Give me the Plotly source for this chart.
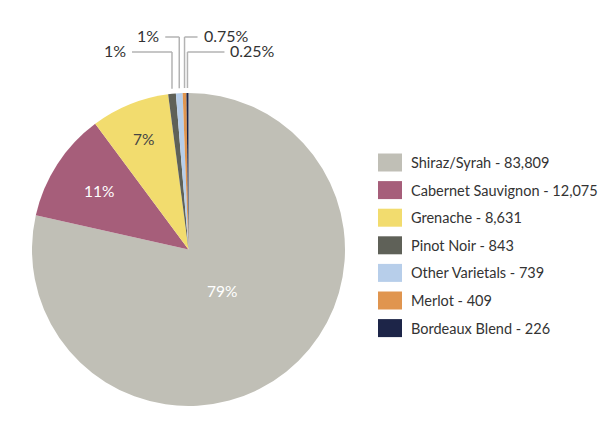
import math
import plotly.graph_objects as go

# ---- data ----
varieties = ["Shiraz/Syrah", "Cabernet Sauvignon", "Grenache", "Pinot Noir",
             "Other Varietals", "Merlot", "Bordeaux Blend"]
tonnes = [83809, 12075, 8631, 843, 739, 409, 226]
pct_labels = ["79%", "11%", "7%", "1%", "1%", "0.75%", "0.25%"]
colors = ["#C0BFB6", "#A65E7A", "#F2DC6E", "#5F6158", "#B7CEEA", "#E0954F", "#1D2548"]

W, H = 600, 434
# pie geometry in pixels
PX0, PX1, PY0, PY1 = 32, 345, 93, 406
CX, CY = (PX0 + PX1) / 2, (PY0 + PY1) / 2
R = (PX1 - PX0) / 2

def px(x):
    return x / W

def py(y):
    return 1 - y / H

FONT = "Lato"

fig = go.Figure(go.Pie(
    labels=varieties, values=tonnes, sort=False, direction="clockwise",
    rotation=0, textinfo="none",
    marker=dict(colors=colors, line=dict(width=0)),
    domain=dict(x=[px(PX0), px(PX1)], y=[py(PY1), py(PY0)]),
    showlegend=False, hoverinfo="label+value+percent",
))

shapes = []
annotations = []

total = sum(tonnes)
cum = 0
mids = []
for v in tonnes:
    mids.append((cum + v / 2) / total)
    cum += v

# inside labels for the large slices (radial fraction, colour)
inside_style = {0: (0.34, "white"), 1: (0.68, "white"), 2: (0.76, "#444444")}
for i, (frac, col) in inside_style.items():
    ang = mids[i] * 2 * math.pi
    x = CX + frac * R * math.sin(ang)
    y = CY - frac * R * math.cos(ang)
    annotations.append(dict(
        xref="paper", yref="paper", x=px(x), y=py(y), text=pct_labels[i],
        showarrow=False, xanchor="center", yanchor="middle",
        font=dict(family=FONT, size=15.5, color=col)))

line_color = "#B3B3B3"
# (level y in px, horizontal direction, horizontal length)
leader_style = {3: (52, -1, 40), 4: (37, -1, 14), 5: (37, 1, 13), 6: (52, 1, 37)}
for i, (ly, d, length) in leader_style.items():
    ang = mids[i] * 2 * math.pi
    x_edge = CX + R * math.sin(ang)
    y_edge = CY - R * math.cos(ang)
    y_stop = y_edge - 5
    shapes.append(dict(type="line", xref="paper", yref="paper",
                       x0=px(x_edge), y0=py(y_stop), x1=px(x_edge), y1=py(ly),
                       line=dict(color=line_color, width=1.5)))
    x_end = x_edge + d * length
    shapes.append(dict(type="line", xref="paper", yref="paper",
                       x0=px(x_edge), y0=py(ly), x1=px(x_end), y1=py(ly),
                       line=dict(color=line_color, width=1.5)))
    annotations.append(dict(
        xref="paper", yref="paper", x=px(x_end + d * 4), y=py(ly - 1),
        text=pct_labels[i], showarrow=False,
        xanchor="left" if d > 0 else "right", yanchor="middle",
        font=dict(family=FONT, size=16, color="#333333")))

# custom legend
LX, LY0, LDY = 378, 162.5, 27.6
for i, (name, v) in enumerate(zip(varieties, tonnes)):
    yc = LY0 + i * LDY
    shapes.append(dict(type="rect", xref="paper", yref="paper",
                       x0=px(LX), x1=px(LX + 24), y0=py(yc + 9), y1=py(yc - 9),
                       fillcolor=colors[i], line=dict(width=0)))
    annotations.append(dict(
        xref="paper", yref="paper", x=px(LX + 31), y=py(yc),
        text=f"{name} - {v:,}", showarrow=False,
        xanchor="left", yanchor="middle",
        font=dict(family=FONT, size=14.5, color="#333333")))

fig.update_layout(
    width=W, height=H, margin=dict(l=0, r=0, t=0, b=0),
    paper_bgcolor="white", plot_bgcolor="white",
    shapes=shapes, annotations=annotations,
)

fig.write_html("out.html", config={"displayModeBar": False},
               post_script="document.body.style.margin='0';document.body.style.overflow='hidden';")
